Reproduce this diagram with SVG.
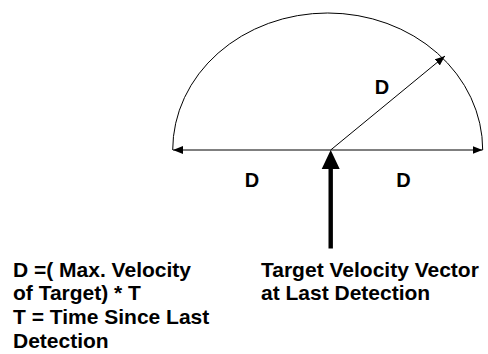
<svg xmlns="http://www.w3.org/2000/svg" width="488" height="354" viewBox="0 0 488 354">
  <defs>
    <marker id="ah" viewBox="0 0 10 8" refX="10" refY="4" markerWidth="10" markerHeight="8" markerUnits="userSpaceOnUse" orient="auto-start-reverse">
      <path d="M0,0 L10,4 L0,8 Z" fill="#000"/>
    </marker>
    <style>
      .thin { stroke:#000; stroke-width:1; fill:none; }
      .lbl { font-family:"Liberation Sans", Arial, sans-serif; font-weight:bold; font-size:21px; fill:#000; }
      .d { font-family:"Liberation Sans", Arial, sans-serif; font-weight:bold; font-size:20px; fill:#000; text-anchor:middle; }
    </style>
  </defs>
  <rect width="488" height="354" fill="#fff"/>
  <g id="region">
    <path class="thin" d="M172.7,150 A155,137 0 0 1 482.7,150"/>
  </g>
  <g id="connectors">
    <line class="thin" x1="173" y1="150" x2="482.5" y2="150" marker-start="url(#ah)" marker-end="url(#ah)"/>
    <line class="thin" x1="330.7" y1="150" x2="445" y2="56" marker-end="url(#ah)"/>
    <path d="M328.5,248.5 L328.5,169 L321.7,169 L330.7,150 L339.7,169 L332.9,169 L332.9,248.5 Z" fill="#000"/>
  </g>
  <g id="labels-d">
    <text class="d" x="382" y="94">D</text>
    <text class="d" x="252" y="187">D</text>
    <text class="d" x="403.5" y="187">D</text>
  </g>
  <g id="formula">
    <text class="lbl" x="13" y="276.5">D =( Max. Velocity</text>
    <text class="lbl" x="13" y="300">of Target) * T</text>
    <text class="lbl" x="13" y="324">T = Time Since Last</text>
    <text class="lbl" x="13" y="347.5">Detection</text>
  </g>
  <g id="vector-label">
    <text class="lbl" x="261" y="276.5">Target Velocity Vector</text>
    <text class="lbl" x="261" y="300">at Last Detection</text>
  </g>
</svg>
